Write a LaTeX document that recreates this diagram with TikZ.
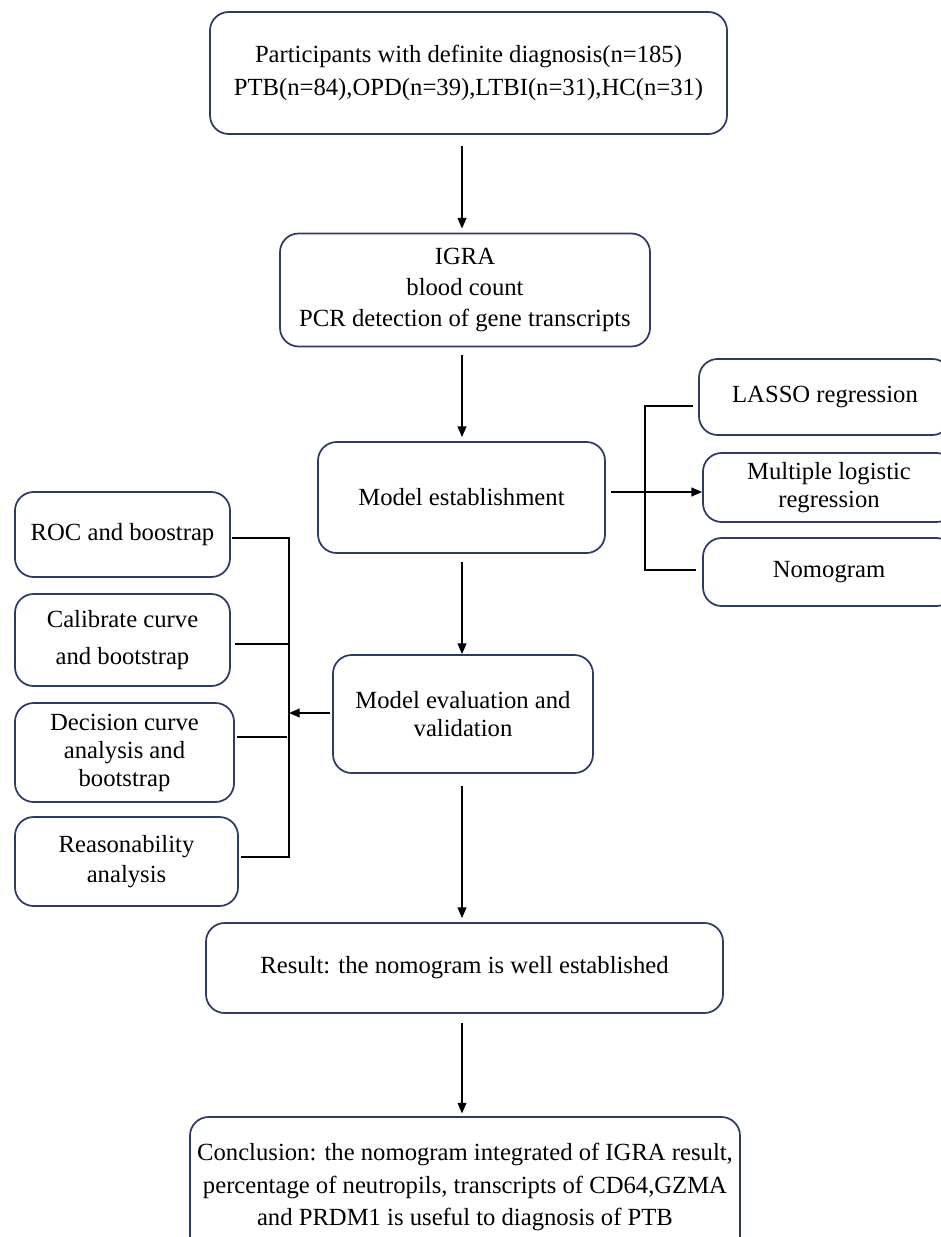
\documentclass[tikz,border=0pt]{standalone}
\usepackage{fontspec}
\setmainfont{Liberation Serif}
\usepackage{tikz}
\usepackage{xcolor}
\usetikzlibrary{arrows.meta, calc, positioning}
\definecolor{boxline}{RGB}{44,58,100}

\begin{document}
\begin{tikzpicture}[x=0.75pt, y=-0.75pt,
  box/.style={draw=boxline, line width=1.3pt, rounded corners=14pt, align=center,
    font=\fontsize{18.5}{24.5}\selectfont, inner sep=0pt},
  line/.style={line width=1.3pt},
  arr/.style={line width=1.3pt, -{Triangle[length=8pt, width=6.5pt]}}]
  % Page
  \clip (0,0) rectangle (941,1237);

  % Main column
  \node[box, minimum width=387.75pt, minimum height=91.5pt] (top) at (468.5,73)
    {Participants with definite diagnosis(n=185)\\PTB(n=84),OPD(n=39),LTBI(n=31),HC(n=31)};
  \node[box, minimum width=277.5pt, minimum height=84.75pt, font=\fontsize{18.5}{23.5}\selectfont] (igra) at (465,290)
    {IGRA\\blood count\\PCR detection of gene transcripts};
  \node[box, minimum width=215.25pt, minimum height=83.25pt] (est) at (461.5,497.5)
    {Model establishment};
  \node[box, minimum width=195pt, minimum height=88.5pt, font=\fontsize{18.5}{21}\selectfont] (eval) at (463,714)
    {Model evaluation and\\validation};
  \node[box, minimum width=387.75pt, minimum height=67.5pt] (res) at (464.5,968)
    {Result: the nomogram is well established};
  \node[box, minimum width=412.5pt, minimum height=105pt] (concl) at (465,1187)
    {Conclusion: the nomogram integrated of IGRA result,\\percentage of neutropils, transcripts of CD64,GZMA\\and PRDM1 is useful to diagnosis of PTB};

  % Right branch
  \node[box, minimum width=189pt, minimum height=57pt] (lasso) at (825,397) {LASSO regression};
  \node[box, minimum width=189pt, minimum height=51.75pt, font=\fontsize{18.5}{21}\selectfont] (multi) at (829,487.5)
    {Multiple logistic\\regression};
  \node[box, minimum width=189pt, minimum height=51pt] (nomo) at (829,572) {Nomogram};

  % Left branch
  \node[box, minimum width=161.25pt, minimum height=63.75pt] (roc) at (122.5,534.5) {ROC and boostrap};
  \node[box, minimum width=161.25pt, minimum height=69pt, font=\fontsize{18.5}{27.5}\selectfont] (calib) at (122.5,640)
    {Calibrate curve\\and bootstrap};
  \node[box, minimum width=164.25pt, minimum height=74.25pt, font=\fontsize{18.5}{21}\selectfont] (dec) at (124.5,752.5)
    {Decision curve\\analysis and\\bootstrap};
  \node[box, minimum width=167.25pt, minimum height=66.75pt, font=\fontsize{18.5}{23}\selectfont] (reas) at (126.5,861.5)
    {Reasonability\\analysis};

  % Arrows down the column
  \coordinate (ax) at (462,0);
  \draw[arr, shorten <=8pt, shorten >=3pt] (top.south -| ax) -- (igra.north -| ax);
  \draw[arr, shorten <=6pt, shorten >=3pt] (igra.south -| ax) -- (est.north -| ax);
  \draw[arr, shorten <=6pt, shorten >=0pt] (est.south -| ax) -- (eval.north -| ax);
  \draw[arr, shorten <=9pt, shorten >=3pt] (eval.south -| ax) -- (res.north -| ax);
  \draw[arr, shorten <=7pt, shorten >=2pt] (res.south -| ax) -- (concl.north -| ax);

  % Right bracket
  \coordinate (rb) at (645,0);
  \coordinate (lasso-in) at ($(lasso.west)+(-5,9)$);
  \coordinate (nomo-in) at ($(nomo.west)+(-6,-2)$);
  \draw[line] (lasso-in) -- (lasso-in -| rb) -- (nomo-in -| rb) -- (nomo-in);
  \draw[arr] ($(est.east)+(5,-5.5)$) -- ($(multi.west)+(0,4.5)$);

  % Left bracket
  \coordinate (lb) at (289,713);
  \coordinate (roc-out) at ($(roc.east)+(1,3.5)$);
  \coordinate (calib-out) at ($(calib.east)+(4,4)$);
  \coordinate (reas-out) at ($(reas.east)+(2,-4.5)$);
  \draw[line] (roc-out) -- (roc-out -| lb) -- (reas-out -| lb) -- (reas-out);
  \draw[line] (calib-out) -- (calib-out -| lb);
  \draw[line] ($(dec.east)+(2,-15.5)$) -- ++(50,0);
  \draw[arr] ($(eval.west)+(-2,-1)$) -- (lb);
\end{tikzpicture}
\end{document}
